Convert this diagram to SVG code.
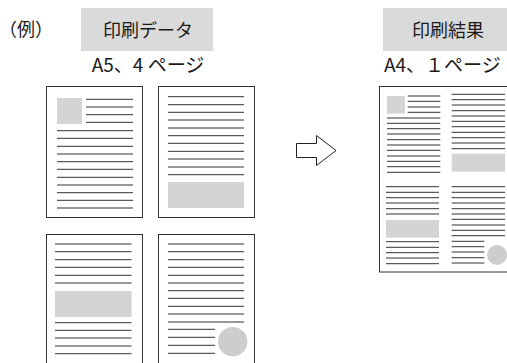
<svg xmlns="http://www.w3.org/2000/svg" width="507" height="363" viewBox="0 0 507 363">
<style>
text{font-family:"Noto Sans CJK JP","Noto Sans",sans-serif;fill:#1a1a1a}
.hdr{fill:#dadada}
.pg{fill:#fff;stroke:#333;stroke-width:1}
.ln{stroke:#333;stroke-width:1;fill:none}
.blk{fill:#d4d4d4}
.dot{fill:#cdcdcd}
</style>
<rect width="507" height="363" fill="#fff"/>
<g id="label-example"><text x="-1" y="36" font-size="18">（例）</text></g>
<g id="header-data"><rect class="hdr" x="81" y="8" width="132" height="43"/><text x="148" y="36.5" font-size="18" text-anchor="middle">印刷データ</text></g>
<g id="label-a5"><text x="148" y="72" font-size="19" text-anchor="middle">A5、4 ページ</text></g>
<g id="header-result"><rect class="hdr" x="383" y="8" width="124" height="43"/><text x="448" y="36.5" font-size="18" text-anchor="middle">印刷結果</text></g>
<g id="label-a4"><text x="384" y="72" font-size="19">A4、１ページ</text></g>

<g id="page1">
<rect class="pg" x="46.5" y="86.5" width="96" height="131"/>
<rect class="blk" x="57" y="98" width="25" height="26"/>
<path class="ln" d="M86 99.3H133M86 107H133M86 114.7H133M86 122.3H133M57 130.7H133M57 138.3H133M57 146.3H133M57 154H133M57 161.7H133M57 169.3H133M57 177.3H133M57 185H133M57 192.7H133M57 200.3H133M57 208H133"/>
</g>
<g id="page2">
<rect class="pg" x="158.5" y="86.5" width="96" height="131"/>
<path class="ln" d="M168 96.7H244M168 104.7H244M168 112.3H244M168 120H244M168 128H244M168 135.7H244M168 143.3H244M168 151.3H244M168 159H244M168 167H244M168 174.7H244"/>
<rect class="blk" x="168" y="182" width="76" height="26"/>
</g>
<g id="page3">
<rect class="pg" x="46.5" y="234.5" width="96" height="131"/>
<path class="ln" d="M55 244H131.5M55 251.7H131.5M55 259.7H131.5M55 267.3H131.5M55 275.3H131.5M55 283H131.5M55 322.7H131.5M55 330.3H131.5M55 338H131.5M55 346H131.5M55 353.7H131.5"/>
<rect class="blk" x="55" y="291" width="76.5" height="26"/>
</g>
<g id="page4">
<rect class="pg" x="158.5" y="234.5" width="96" height="131"/>
<path class="ln" d="M168 244H244M168 251.7H244M168 259.7H244M168 267.3H244M168 275.3H244M168 283H244M168 290.7H244M168 298.3H244M168 306.3H244M168 314H244M168 322H244M168 329.3H215M168 337.3H215M168 345.3H215M168 353.3H215"/>
<circle class="dot" cx="232.7" cy="341.7" r="14.7"/>
</g>
<g id="result-page">
<rect class="pg" x="379.5" y="86.5" width="140" height="185.5"/>
<rect class="blk" x="387" y="96" width="18" height="17.7"/>
<path class="ln" d="M407.7 96H440.3M407.7 101.3H440.3M407.7 107H440.3M407.7 112.3H440.3M387 118H440.3M387 123.3H440.3M387 128.7H440.3M387 134H440.3M387 139.7H440.3M387 145H440.3M387 150.3H440.3M387 156H440.3M387 161.3H440.3M387 166.7H440.3M387 172.3H440.3"/>
<path class="ln" d="M451.7 94.3H505M451.7 99.7H505M451.7 105H505M451.7 110.7H505M451.7 116H505M451.7 121.3H505M451.7 126.7H505M451.7 132.3H505M451.7 137.7H505M451.7 143H505M451.7 148.7H505"/>
<rect class="blk" x="451.7" y="153.7" width="53.3" height="18"/>
<path class="ln" d="M386 186.7H439M386 192.3H439M386 197.7H439M386 203H439M386 208.7H439M386 214H439M386 241.7H439M386 247.3H439M386 252.7H439M386 258H439M386 263.7H439"/>
<rect class="blk" x="386" y="220" width="53" height="17.7"/>
<path class="ln" d="M451.7 186.7H505M451.7 192.3H505M451.7 197.7H505M451.7 203H505M451.7 208.7H505M451.7 214H505M451.7 219.3H505M451.7 225H505M451.7 230.3H505M451.7 235.7H505M451.7 241.3H484.3M451.7 246.7H484.3M451.7 252H484.3M451.7 257.7H484.3M451.7 263H484.3"/>
<circle class="dot" cx="497" cy="255" r="10"/>
</g>
<g id="connectors">
<polygon points="296.5,143.5 316.5,143.5 316.5,135.5 336,150.5 316.5,165.5 316.5,157.5 296.5,157.5" fill="#fff" stroke="#222" stroke-width="1"/>
</g>
</svg>
